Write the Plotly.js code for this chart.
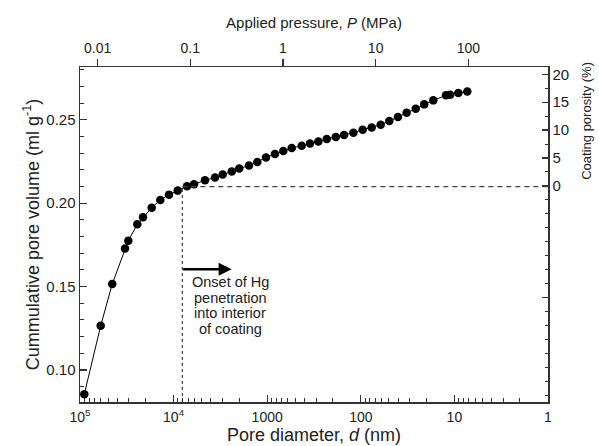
<!DOCTYPE html>
<html>
<head>
<meta charset="utf-8">
<script src="https://cdn.plot.ly/plotly-3.0.1.min.js"></script>
<style>
  html, body { margin: 0; padding: 0; background: #fff; }
  #chart { width: 599px; height: 446px; }
</style>
</head>
<body>
<div id="chart"></div>
<script>
// ---- Data ----
const diameterNm = [89950, 60100, 45200, 33040, 30480, 24430, 21230, 17140, 13870, 11200,
  9040, 7190, 6050, 4620, 3610, 2990, 2390, 1990, 1565, 1275, 1030, 826, 673, 547, 428,
  349, 284, 231, 185, 151, 120, 95.5, 76.5, 61.3, 49.6, 40.1, 32.4, 25.9, 21.0, 16.8,
  12.3, 11.1, 9.08, 7.28];
const poreVolume = [0.0855, 0.1265, 0.1516, 0.1728, 0.1775, 0.1873, 0.1915, 0.1973, 0.2019, 0.2051,
  0.2075, 0.2101, 0.2113, 0.2137, 0.2153, 0.2171, 0.2190, 0.2207, 0.2226, 0.2247, 0.2274, 0.2295,
  0.2313, 0.2330, 0.2344, 0.2358, 0.2370, 0.2384, 0.2396, 0.2408, 0.2422, 0.2440, 0.2454, 0.2470,
  0.2492, 0.2516, 0.2542, 0.2566, 0.2592, 0.2616, 0.2646, 0.2650, 0.2660, 0.2669];

const diameterTickVals = [1e5, 1e4, 1000, 100, 10, 1];
const diameterTickText = ['10<sup>5</sup>', '10<sup>4</sup>', '1000', '100', '10', '1'];
const pressureTickVals = [0.01, 0.1, 1, 10, 100];
const pressureTickText = ['0.01', '0.1', '1', '10', '100'];
const volumeTickVals = [0.10, 0.15, 0.20, 0.25];
const volumeTickText = ['0.10', '0.15', '0.20', '0.25'];
const porosityTickVals = [-20, 0, 5, 10, 15, 20];
const porosityTickText = ['', '0', '5', '10', '15', '20'];

const onsetDiameter = 8070;     // nm, onset of Hg penetration into coating
const onsetVolume = 0.2099;     // ml/g, level of 0 % coating porosity
const arrowTipDiameter = 2400;  // nm
const arrowVolume = 0.1604;
const labelDiameter = 2480;
const labelVolume = 0.1385;
const labelLines = ['Onset of Hg', 'penetration', 'into interior', 'of coating'];

const volumeRange = [0.0808, 0.2816];
const porosityRange = [-38.7, 21.3];
const diameterMin = 1;

const FONT = 'Liberation Sans, Arial, Helvetica, sans-serif';
const INK = '#222';
const AX = '#333';

const traces = [
  {
    x: diameterNm, y: poreVolume, type: 'scatter', mode: 'lines+markers',
    line: { color: '#000', width: 1 },
    marker: { color: '#000', size: 8.5, symbol: 'circle' },
    xaxis: 'x', yaxis: 'y', showlegend: false, hoverinfo: 'skip'
  },
  {
    x: [onsetDiameter, onsetDiameter], y: [volumeRange[0], onsetVolume],
    type: 'scatter', mode: 'lines', line: { color: '#444', width: 1.2, dash: '3px,3px' },
    showlegend: false, hoverinfo: 'skip'
  },
  {
    x: [onsetDiameter, diameterMin], y: [onsetVolume, onsetVolume],
    type: 'scatter', mode: 'lines', line: { color: '#444', width: 1.2, dash: '5px,4px' },
    showlegend: false, hoverinfo: 'skip'
  },
  // binds the top (pressure) and right (porosity) axes
  { x: [], y: [], xaxis: 'x2', yaxis: 'y2', type: 'scatter', showlegend: false }
];

const lineGap = 15.5;
const annotations = [
  {
    x: Math.log10(arrowTipDiameter), y: arrowVolume, xref: 'x', yref: 'y',
    text: '', showarrow: true, ax: -50, ay: 0, axref: 'pixel', ayref: 'pixel',
    arrowhead: 2, arrowsize: 1, arrowwidth: 2.6, arrowcolor: '#000'
  },
  {
    x: 1.083, y: 0.839, xref: 'paper', yref: 'paper', textangle: -90,
    xanchor: 'center', yanchor: 'middle',
    text: 'Coating porosity (%)', showarrow: false,
    font: { size: 13, color: INK, family: FONT }
  }
];
labelLines.forEach((t, i) => {
  annotations.push({
    x: Math.log10(labelDiameter), y: labelVolume, xref: 'x', yref: 'y',
    yshift: (1.5 - i) * lineGap,
    text: t, showarrow: false, align: 'center',
    font: { size: 14.5, color: INK, family: FONT }
  });
});

const layout = {
  width: 599, height: 446,
  margin: { l: 80, r: 51, t: 67, b: 44 },
  paper_bgcolor: '#fff', plot_bgcolor: '#fff',
  font: { family: FONT, color: INK, size: 14 },
  showlegend: false,
  xaxis: {
    type: 'log', range: [5, 0], autorange: false,
    tickmode: 'array', tickvals: diameterTickVals, ticktext: diameterTickText,
    ticks: 'inside', ticklen: 7, tickwidth: 1.2, tickcolor: AX, ticklabelstandoff: 2,
    minor: { ticks: 'inside', ticklen: 4, tickwidth: 1, tickcolor: AX, dtick: 'D1', showgrid: false },
    showline: true, linecolor: AX, linewidth: 1.5, showgrid: false, zeroline: false,
    tickfont: { size: 14, color: INK },
    title: { text: 'Pore diameter, <i>d</i> (nm)', font: { size: 18, color: INK }, standoff: 3 }
  },
  xaxis2: {
    type: 'log', overlaying: 'x', side: 'top', anchor: 'y',
    range: [-2.19, 2.86], autorange: false,
    tickmode: 'array', tickvals: pressureTickVals, ticktext: pressureTickText,
    ticks: 'outside', ticklen: 7, tickwidth: 1.2, tickcolor: AX,
    showline: true, linecolor: AX, linewidth: 1.5, showgrid: false, zeroline: false,
    tickfont: { size: 14, color: INK },
    title: { text: 'Applied pressure, <i>P</i> (MPa)', font: { size: 15, color: INK }, standoff: 7 }
  },
  yaxis: {
    range: volumeRange, autorange: false,
    tickmode: 'array', tickvals: volumeTickVals, ticktext: volumeTickText,
    ticks: 'inside', ticklen: 7, tickwidth: 1.2, tickcolor: AX,
    minor: { ticks: 'inside', ticklen: 4, tickwidth: 1, tickcolor: AX, dtick: 0.01, showgrid: false },
    showline: true, linecolor: AX, linewidth: 1.5, showgrid: false, zeroline: false,
    tickfont: { size: 15, color: INK },
    title: { text: 'Cummulative pore volume (ml g<sup>-1</sup>)', font: { size: 18, color: INK }, standoff: 2 }
  },
  yaxis2: {
    overlaying: 'y', side: 'right', anchor: 'x',
    range: porosityRange, autorange: false,
    tickmode: 'array', tickvals: porosityTickVals, ticktext: porosityTickText,
    ticks: 'inside', ticklen: 6, tickwidth: 1.2, tickcolor: AX,
    minor: { ticks: 'inside', ticklen: 3.5, tickwidth: 1, tickcolor: AX, dtick: 2.5, showgrid: false },
    showline: true, linecolor: AX, linewidth: 1.5, showgrid: false, zeroline: false,
    tickfont: { size: 15, color: INK }
  },
  annotations: annotations
};

Plotly.newPlot('chart', traces, layout, { staticPlot: true, displayModeBar: false });
</script>
</body>
</html>
